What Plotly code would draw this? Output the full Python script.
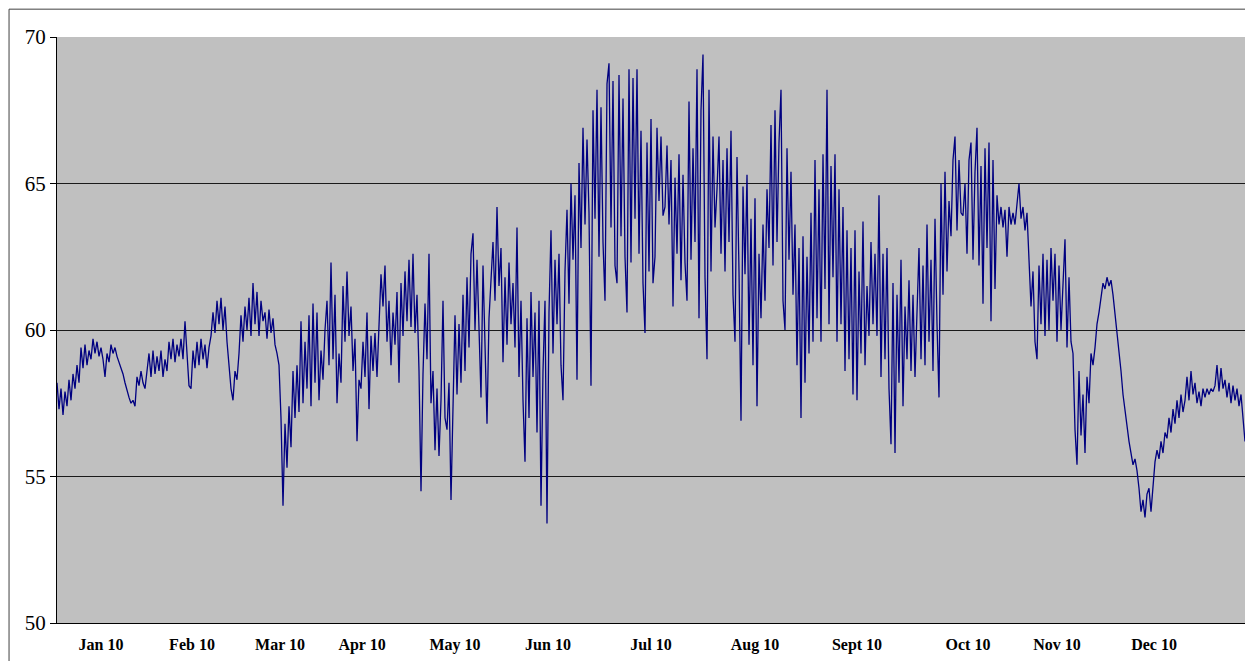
import plotly.graph_objects as go

# Temperature readings (deg F), roughly evenly spaced in time
p_start = [58.2, 57.3, 58.0, 57.1, 57.9, 57.4, 58.3, 57.6, 58.5, 58.0, 58.8, 58.2, 59.4, 58.7, 59.5, 58.8,
           59.3, 59.0, 59.7, 59.2, 59.6, 59.1]
p_jan = [59.4, 59.0, 58.4, 59.2, 58.9, 59.5, 59.2, 59.4, 59.1, 58.9, 58.7, 58.5, 58.2, 57.9, 57.7, 57.5,
         57.6, 57.4, 58.4, 58.1, 58.6, 58.2, 58.0, 58.6, 59.2, 58.4, 59.3, 58.5, 59.1, 58.6, 59.3, 58.4,
         59.0, 58.6, 59.6, 59.0, 59.7, 58.9, 59.5, 59.1, 59.7, 59.0, 60.3, 59.2, 58.1]
p_feb = [58.0, 59.3, 58.7, 59.6, 58.8, 59.7, 59.0, 59.5, 58.7, 59.4, 59.8, 60.6, 59.9, 61.0, 60.2, 61.1,
         60.0, 60.8, 59.6, 58.9, 58.0, 57.6, 58.6, 58.3, 59.2, 60.5, 59.6, 60.8, 60.0, 61.1, 59.8, 61.6,
         60.2, 61.3, 59.8, 61.0, 60.3, 60.6, 59.7, 60.7, 59.9, 60.4, 59.5, 59.2]
p_mar = [58.8, 57.0, 54.0, 56.8, 55.3, 57.4, 56.0, 58.6, 57.0, 58.8, 57.2, 60.3, 57.5, 59.6, 58.0, 60.5,
         57.4, 60.9, 58.2, 60.6, 57.6, 59.3, 58.3, 60.0, 61.0, 58.8, 62.3, 59.0, 61.2, 57.5, 59.2, 58.2,
         61.5, 59.6, 62.0, 59.8, 60.8, 58.6, 59.7, 56.2, 58.3]
p_apr = [58.0, 59.6, 58.4, 60.6, 57.3, 59.8, 58.6, 59.9, 58.4, 60.2, 61.9, 60.8, 62.2, 59.6, 61.0, 58.8,
         60.6, 59.5, 61.3, 58.2, 61.6, 59.8, 62.0, 60.3, 62.4, 60.1, 62.6, 59.9, 61.2, 58.6, 54.5, 58.5,
         60.9, 59.0, 62.6, 57.5, 58.6, 55.9, 58.0, 55.7, 57.6, 61.0, 57.0, 56.6, 58.2, 54.2]
p_may = [57.4, 60.5, 57.8, 60.2, 58.2, 61.2, 58.6, 61.8, 59.4, 62.6, 63.3, 60.0, 62.4, 59.6, 57.7, 62.2,
         59.2, 56.8, 60.4, 61.8, 63.0, 61.0, 64.2, 61.5, 62.8, 58.9, 61.8, 59.5, 62.3, 60.2, 61.6, 59.4,
         63.5, 58.4, 61.0, 57.6, 55.5, 60.4, 57.0, 61.3, 58.4, 60.6, 56.5, 61.0, 54.0, 58.6]
p_jun = [61.0, 53.4, 60.6, 63.4, 59.2, 62.4, 60.2, 62.6, 58.8, 57.6, 62.0, 64.1, 60.9, 65.0, 62.4, 64.6,
         58.3, 65.7, 62.8, 66.9, 63.6, 66.5, 64.0, 58.1, 67.5, 63.8, 68.2, 62.5, 67.6, 63.0, 61.0, 68.4,
         69.1, 63.5, 68.5, 62.2, 61.6, 68.7, 63.2, 67.9, 62.5, 60.6, 68.9, 62.3, 68.6, 63.8, 68.9, 62.6,
         66.8, 61.6, 59.9]
p_jul = [66.4, 62.0, 67.2, 61.6, 62.5, 66.9, 64.4, 66.6, 63.9, 64.2, 66.3, 63.6, 65.8, 60.8, 65.2, 62.6,
         66.0, 61.7, 65.3, 62.3, 61.0, 67.8, 62.4, 66.2, 63.0, 68.9, 60.4, 67.5, 69.4, 61.8, 59.0, 68.2,
         62.0, 66.6, 63.5, 64.8, 66.6, 62.6, 65.8, 62.0, 66.2, 63.0, 66.8, 61.2, 59.6, 65.9, 62.0, 56.9,
         64.9, 61.9, 65.3, 59.5]
p_aug = [63.8, 58.8, 64.5, 57.4, 62.6, 60.4, 63.6, 61.0, 64.8, 62.8, 67.0, 62.2, 67.5, 63.0, 66.4, 68.2,
         61.0, 60.0, 66.2, 62.4, 65.4, 61.2, 63.6, 58.8, 62.8, 57.0, 63.2, 58.2, 62.5, 59.2, 64.0, 59.6,
         65.8, 60.4, 64.8, 59.6, 66.0, 61.4, 68.2, 60.2, 65.6, 61.8, 66.0, 59.6, 64.8, 60.2, 64.2, 58.6,
         63.4, 59.0, 62.8]
p_sep = [57.8, 63.4, 57.6, 62.0, 59.2, 63.7, 58.8, 61.5, 59.8, 63.0, 60.2, 62.6, 59.8, 64.6, 58.4, 62.6,
         59.0, 62.8, 58.0, 56.1, 61.6, 55.8, 61.2, 58.2, 62.4, 57.4, 60.8, 59.0, 61.7, 58.6, 61.2, 58.4,
         60.6, 62.8, 59.0, 62.2, 58.8, 63.6, 59.6, 62.4, 58.6, 63.8, 60.2, 57.7, 65.0, 61.2, 65.4, 62.0,
         64.4, 63.2, 65.8, 66.6, 63.4, 65.8, 64.0]
p_oct = [63.9, 65.0, 62.6, 65.8, 66.4, 62.4, 65.4, 66.9, 62.2, 65.6, 60.9, 66.2, 62.8, 66.4, 60.3, 65.8,
         61.4, 64.6, 63.6, 64.2, 63.5, 64.1, 62.5, 64.2, 63.6, 64.0, 63.6, 64.3, 65.0, 63.8, 64.2, 63.4,
         64.0, 62.4, 60.8, 62.0, 59.6, 59.0, 62.2, 60.2, 62.6, 59.8, 62.4, 60.0, 62.8]
p_nov = [61.0, 62.6, 59.6, 62.2, 60.0, 61.8, 63.1, 59.4, 61.8, 59.6, 59.2, 56.6, 55.4, 58.6, 56.4, 57.8,
         55.8, 58.4, 57.5, 59.2, 58.8, 59.4, 60.2, 60.6, 61.2, 61.6, 61.4, 61.8, 61.5, 61.7, 61.2, 60.6,
         60.0, 59.2, 58.6, 57.8, 57.2, 56.6, 56.2, 55.8, 55.4, 55.6, 55.2, 54.6, 53.8, 54.2, 53.6, 54.4]
p_dec = [54.6, 53.8, 54.8, 55.5, 55.9, 55.6, 56.2, 55.8, 56.5, 56.3, 57.0, 56.5, 57.3, 56.8, 57.6, 57.0,
         57.8, 57.2, 57.6, 58.4, 57.6, 58.6, 57.8, 58.2, 57.5, 57.9, 57.4, 58.0, 57.7, 58.0, 57.8, 58.0,
         57.9, 58.1, 58.8, 57.9, 58.7, 58.0, 58.3, 57.7, 58.2, 57.5, 58.1, 57.6, 58.0, 57.4, 57.8, 57.0,
         56.2, 56.6]

tick_labels = ["Jan 10", "Feb 10", "Mar 10", "Apr 10", "May 10", "Jun 10",
               "Jul 10", "Aug 10", "Sept 10", "Oct 10", "Nov 10", "Dec 10"]
tick_pos = [22, 67.5, 111.5, 152.5, 199, 245.5, 297, 349, 400, 455.5, 500, 548.5]
y_ticks = [50, 55, 60, 65, 70]

values = (p_start + p_jan + p_feb + p_mar + p_apr + p_may + p_jun + p_jul +
          p_aug + p_sep + p_oct + p_nov + p_dec)
x = list(range(len(values)))

fig = go.Figure()
fig.add_trace(go.Scatter(x=x, y=values, mode="lines",
                         line=dict(color="#000080", width=1.3), hoverinfo="skip"))

fig.update_layout(
    width=1245, height=653,
    margin=dict(l=49, r=6, t=29, b=38),
    paper_bgcolor="white", plot_bgcolor="#C0C0C0",
    showlegend=False,
    font=dict(family="Liberation Serif, Times New Roman, serif", color="black"),
    shapes=[
        dict(type="rect", xref="paper", yref="paper", x0=-0.0403, x1=1.0025, y0=-0.08, y1=1.0475,
             line=dict(color="#404040", width=1), fillcolor="rgba(0,0,0,0)", layer="below"),
        dict(type="line", xref="paper", yref="paper", x0=1, x1=1, y0=0, y1=1,
             line=dict(color="#808080", width=1)),
    ],
)
fig.update_xaxes(range=[0, len(values) - 1], tickvals=tick_pos, ticktext=tick_labels,
                 showgrid=False, zeroline=False, showline=True, linecolor="black", linewidth=1,
                 ticks="", tickfont=dict(size=16, family="Liberation Serif", weight="bold"),
                 ticklabelstandoff=7)
fig.update_yaxes(range=[50, 70], tickvals=y_ticks, showgrid=True, gridcolor="#1a1a1a", gridwidth=1,
                 zeroline=False, showline=True, linecolor="black", linewidth=1,
                 ticks="outside", ticklen=6, tickcolor="black",
                 tickfont=dict(size=21, family="Liberation Serif"))

fig.write_html("out.html")
